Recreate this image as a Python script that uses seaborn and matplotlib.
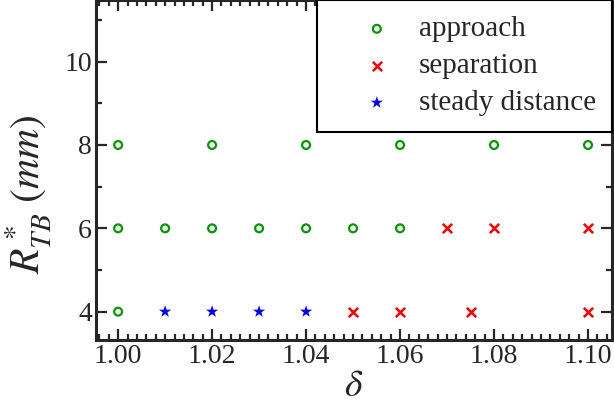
import matplotlib
matplotlib.use("Agg")
import matplotlib.pyplot as plt
import seaborn as sns
from matplotlib.ticker import MultipleLocator, FormatStrFormatter

# data
approach_delta = [1.00, 1.02, 1.04, 1.06, 1.08, 1.10,
                  1.00, 1.01, 1.02, 1.03, 1.04, 1.05, 1.06,
                  1.00]
approach_r = [8, 8, 8, 8, 8, 8,
              6, 6, 6, 6, 6, 6, 6,
              4]
separation_delta = [1.07, 1.08, 1.10, 1.05, 1.06, 1.075, 1.10]
separation_r = [6, 6, 6, 4, 4, 4, 4]
steady_delta = [1.01, 1.02, 1.03, 1.04]
steady_r = [4, 4, 4, 4]

sns.set_style("ticks")
plt.rcParams["font.family"] = ["Liberation Serif", "DejaVu Serif"]
plt.rcParams["mathtext.fontset"] = "stix"

fig = plt.figure(figsize=(6.14, 4.08), dpi=100)
ax = fig.add_axes([0.1564, 0.1667, 0.9967 - 0.1564, 0.8333])

sns.scatterplot(x=approach_delta, y=approach_r, ax=ax, marker="o", s=32,
                facecolor="none", edgecolor="#009900", linewidth=1.6,
                label="approach")
sns.scatterplot(x=separation_delta, y=separation_r, ax=ax, marker="x", s=45,
                color="#ff0000", linewidth=1.8, label="separation")
sns.scatterplot(x=steady_delta, y=steady_r, ax=ax, marker="*", s=85,
                color="#0000ff", edgecolor="none", label="steady distance")

ax.set_xlim(0.9953, 1.1051)
ax.set_ylim(3.32, 11.48)
ax.xaxis.set_major_locator(MultipleLocator(0.02))
ax.xaxis.set_minor_locator(MultipleLocator(0.002))
ax.yaxis.set_major_locator(MultipleLocator(2))
ax.yaxis.set_minor_locator(MultipleLocator(1))
ax.xaxis.set_major_formatter(FormatStrFormatter("%.2f"))

ax.tick_params(which="both", direction="in", top=True, right=True,
               labelsize=20, width=1.6, pad=3)
ax.tick_params(which="major", length=8)
ax.tick_params(which="minor", length=4.5)
for sp in ax.spines.values():
    sp.set_linewidth(2.2)

ax.set_xlabel(r"$\delta$", fontsize=27, labelpad=0)
ax.set_ylabel(r"$R^*_{TB}\ (mm)$", fontsize=30)
ax.yaxis.set_label_coords(-0.082, 0.43)

leg = ax.legend(loc="upper right", bbox_to_anchor=(1, 1), borderaxespad=0,
                fontsize=21, frameon=True, fancybox=False, borderpad=0.55,
                handlelength=3.0, handletextpad=-0.06, labelspacing=0.36)
leg.get_frame().set_edgecolor("black")
leg.get_frame().set_linewidth(1.5)
leg.get_frame().set_alpha(1)

fig.savefig("out.png", dpi=100)
